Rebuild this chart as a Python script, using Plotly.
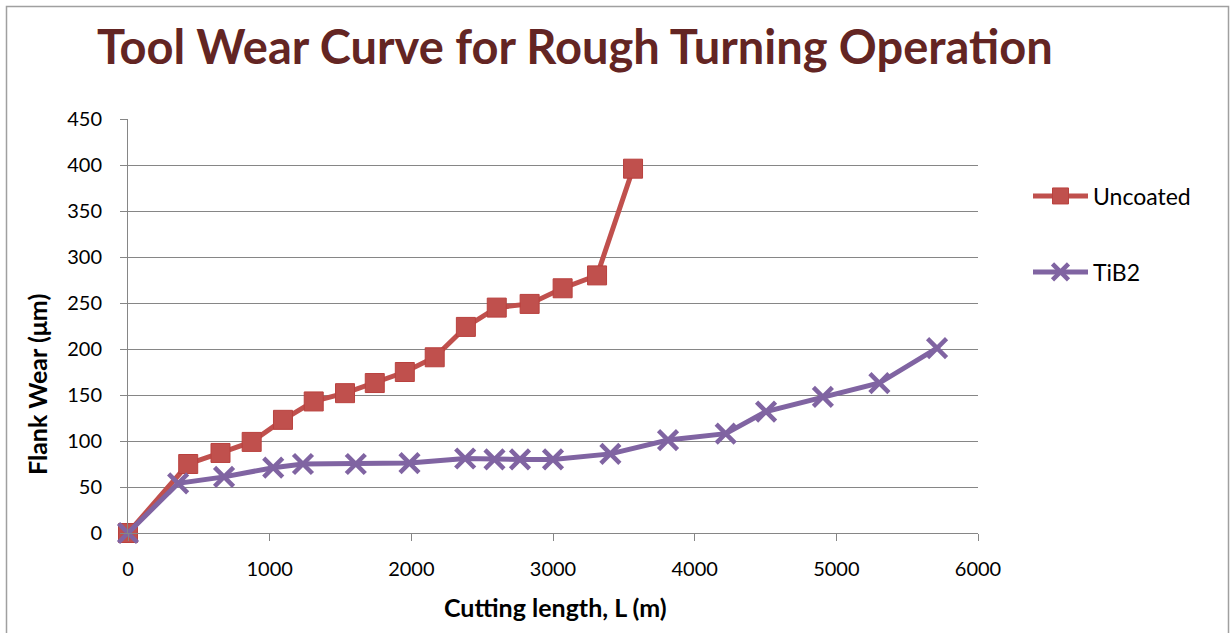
import plotly.graph_objects as go

# Flank wear measurements against cutting length
uncoated_length = [0, 425, 653, 873, 1094, 1311, 1532, 1742, 1954, 2165, 2385, 2603, 2835, 3068, 3311, 3565]
uncoated_wear = [0, 75, 87, 99, 123, 143, 152, 163, 175, 191, 224, 245, 249, 266, 280, 396]

tib2_length = [0, 354, 678, 1025, 1235, 1608, 1987, 2380, 2587, 2767, 3000, 3405, 3812, 4219, 4504, 4905, 5304, 5711]
tib2_wear = [0, 54, 61, 71, 75, 75, 76, 81, 80, 80, 80, 86, 101, 108, 132, 148, 163, 201]

x_ticks = [0, 1000, 2000, 3000, 4000, 5000, 6000]
y_ticks = [0, 50, 100, 150, 200, 250, 300, 350, 400, 450]

RED = "#C0504D"
PURPLE = "#8064A2"
GRID = "#868686"
FONT = "Lato"

W, H = 1230, 633
L, R, T, B = 128, 978, 119, 533  # plot area in pixels


def px_x(p):
    return (p - L) / (R - L)


def px_y(p):
    return (B - p) / (B - T)


fig = go.Figure()

fig.add_trace(go.Scatter(
    x=uncoated_length, y=uncoated_wear, name="Uncoated", mode="lines+markers",
    line=dict(color=RED, width=5),
    marker=dict(symbol="square", size=19, color=RED, line=dict(color="#B9413E", width=1)),
    cliponaxis=False,
    legend="legend",
))

fig.add_trace(go.Scatter(
    x=tib2_length, y=tib2_wear, name="TiB2", mode="lines+markers",
    line=dict(color=PURPLE, width=5),
    marker=dict(symbol="x-thin", size=19, color=PURPLE, line=dict(color=PURPLE, width=4.5)),
    cliponaxis=False,
    legend="legend2",
))

fig.update_xaxes(
    range=[0, 6000], tickvals=x_ticks, ticktext=[str(v) for v in x_ticks],
    showgrid=False, zeroline=False, showline=True, linecolor=GRID, linewidth=1,
    ticks="outside", ticklen=7, tickcolor=GRID, ticklabelstandoff=11,
    tickfont=dict(family=FONT, size=20, color="#000000"),
)
fig.update_yaxes(
    range=[0, 450], tickvals=y_ticks, ticktext=[str(v) for v in y_ticks],
    showgrid=True, gridcolor=GRID, gridwidth=1, zeroline=False,
    showline=True, linecolor=GRID, linewidth=1,
    ticks="outside", ticklen=7, tickcolor=GRID, ticklabelstandoff=14,
    tickfont=dict(family=FONT, size=20, color="#000000"),
)

legend_style = dict(
    font=dict(family=FONT, size=23, color="#000000"),
    bgcolor="rgba(0,0,0,0)", xanchor="left", yanchor="middle",
    itemwidth=55,
)

fig.update_layout(
    width=W, height=H,
    margin=dict(l=L, r=W - R, t=T, b=H - B, pad=0),
    paper_bgcolor="white", plot_bgcolor="white",
    showlegend=True,
    legend=dict(x=px_x(1028), y=px_y(196), **legend_style),
    legend2=dict(x=px_x(1028), y=px_y(272), **legend_style),
    shapes=[dict(
        type="rect", xref="paper", yref="paper",
        x0=px_x(6.5), x1=px_x(1228.5), y0=px_y(650), y1=px_y(6.5),
        line=dict(color="#A0A0A0", width=1.5), fillcolor="rgba(0,0,0,0)", layer="below",
    )],
    annotations=[
        dict(text="<b>Tool Wear Curve for Rough Turning Operation</b>",
             xref="paper", yref="paper", x=px_x(575), y=px_y(46),
             xanchor="center", yanchor="middle", showarrow=False,
             font=dict(family=FONT, size=47, color="#632523")),
        dict(text="<b>Flank Wear (μm)</b>",
             xref="paper", yref="paper", x=px_x(37), y=px_y(385),
             xanchor="center", yanchor="middle", showarrow=False, textangle=-90,
             font=dict(family=FONT, size=25, color="#000000")),
        dict(text="<b>Cutting length, L (m)</b>",
             xref="paper", yref="paper", x=px_x(555), y=px_y(607),
             xanchor="center", yanchor="middle", showarrow=False,
             font=dict(family=FONT, size=25, color="#000000")),
    ],
)

fig.write_html("out.html")
